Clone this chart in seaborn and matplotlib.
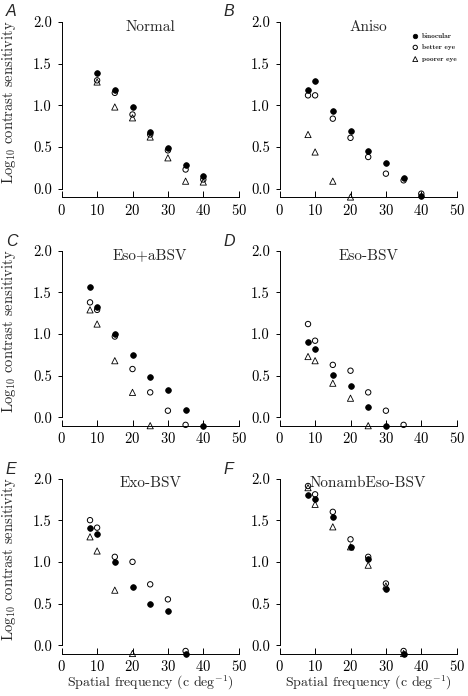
import matplotlib
matplotlib.use("Agg")
import matplotlib.pyplot as plt
import seaborn as sns

sns.set_theme(style="white")
plt.rcParams['font.family'] = ['cmr10', 'DejaVu Serif']
plt.rcParams['mathtext.fontset'] = 'cm'
plt.rcParams['axes.formatter.use_mathtext'] = True

# ---- data: (freqs, log10 contrast sensitivity) per group ----
titles = ["Normal", "Aniso", "Eso+aBSV", "Eso-BSV", "Exo-BSV", "NonambEso-BSV"]
letters = ["A", "B", "C", "D", "E", "F"]

normal_bin_x = [10, 15, 20, 25, 30, 35, 40]
normal_bin_y = [1.39, 1.18, 0.98, 0.68, 0.49, 0.28, 0.15]
normal_bet_x = [10, 15, 20, 25, 30, 35, 40]
normal_bet_y = [1.30, 1.15, 0.89, 0.65, 0.46, 0.23, 0.11]
normal_poor_x = [10, 15, 20, 25, 30, 35, 40]
normal_poor_y = [1.28, 0.98, 0.85, 0.62, 0.37, 0.09, 0.08]

aniso_bin_x = [8, 10, 15, 20, 25, 30, 35, 40]
aniso_bin_y = [1.19, 1.29, 0.93, 0.69, 0.45, 0.31, 0.13, -0.09]
aniso_bet_x = [8, 10, 15, 20, 25, 30, 35, 40]
aniso_bet_y = [1.12, 1.12, 0.84, 0.61, 0.38, 0.18, 0.10, -0.06]
aniso_poor_x = [8, 10, 15, 20]
aniso_poor_y = [0.65, 0.44, 0.09, -0.10]

esoa_bin_x = [8, 10, 15, 20, 25, 30, 35, 40]
esoa_bin_y = [1.56, 1.32, 1.00, 0.75, 0.49, 0.33, 0.09, -0.10]
esoa_bet_x = [8, 10, 15, 20, 25, 30, 35]
esoa_bet_y = [1.38, 1.29, 0.97, 0.58, 0.30, 0.08, -0.09]
esoa_poor_x = [8, 10, 15, 20, 25]
esoa_poor_y = [1.29, 1.12, 0.68, 0.30, -0.10]

eso_bin_x = [8, 10, 15, 20, 25, 30]
eso_bin_y = [0.90, 0.82, 0.51, 0.38, 0.13, -0.10]
eso_bet_x = [8, 10, 15, 20, 25, 30, 35]
eso_bet_y = [1.12, 0.92, 0.63, 0.56, 0.30, 0.08, -0.09]
eso_poor_x = [8, 10, 15, 20, 25]
eso_poor_y = [0.73, 0.68, 0.41, 0.23, -0.10]

exo_bin_x = [8, 10, 15, 20, 25, 30, 35]
exo_bin_y = [1.41, 1.34, 1.00, 0.70, 0.50, 0.41, -0.10]
exo_bet_x = [8, 10, 15, 20, 25, 30, 35]
exo_bet_y = [1.50, 1.41, 1.06, 1.00, 0.73, 0.55, -0.07]
exo_poor_x = [8, 10, 15, 20]
exo_poor_y = [1.30, 1.13, 0.66, -0.10]

nonamb_bin_x = [8, 10, 15, 20, 25, 30, 35]
nonamb_bin_y = [1.80, 1.76, 1.54, 1.18, 1.04, 0.67, -0.10]
nonamb_bet_x = [8, 10, 15, 20, 25, 30, 35]
nonamb_bet_y = [1.91, 1.81, 1.60, 1.27, 1.06, 0.74, -0.07]
nonamb_poor_x = [8, 10, 15, 20, 25, 30, 35]
nonamb_poor_y = [1.89, 1.69, 1.42, 1.18, 0.96, 0.71, -0.10]

panels = [
    (normal_bin_x, normal_bin_y, normal_bet_x, normal_bet_y, normal_poor_x, normal_poor_y),
    (aniso_bin_x, aniso_bin_y, aniso_bet_x, aniso_bet_y, aniso_poor_x, aniso_poor_y),
    (esoa_bin_x, esoa_bin_y, esoa_bet_x, esoa_bet_y, esoa_poor_x, esoa_poor_y),
    (eso_bin_x, eso_bin_y, eso_bet_x, eso_bet_y, eso_poor_x, eso_poor_y),
    (exo_bin_x, exo_bin_y, exo_bet_x, exo_bet_y, exo_poor_x, exo_poor_y),
    (nonamb_bin_x, nonamb_bin_y, nonamb_bet_x, nonamb_bet_y, nonamb_poor_x, nonamb_poor_y),
]

W, H = 468, 696
fig = plt.figure(figsize=(W / 100, H / 100), dpi=100)

lefts = [61.7, 279.7]
axis_rows = [197, 425.7, 653.5]  # pixel y of x-axis line
ax_w, ax_h = 177, 175

for i, (bx, by, ex, ey, px, py) in enumerate(panels):
    r, c = divmod(i, 2)
    ax = fig.add_axes([lefts[c] / W, (H - axis_rows[r]) / H, ax_w / W, ax_h / H])
    sns.scatterplot(x=bx, y=by, ax=ax, marker='o', s=17, color='black',
                    edgecolor='black', linewidth=0.5, clip_on=False, zorder=3,
                    label='binocular')
    sns.scatterplot(x=ex, y=ey, ax=ax, marker='o', s=15, color='none',
                    edgecolor='black', linewidth=0.7, clip_on=False, zorder=3,
                    label='better eye')
    sns.scatterplot(x=px, y=py, ax=ax, marker='^', s=20, color='none',
                    edgecolor='black', linewidth=0.6, clip_on=False, zorder=3,
                    label='poorer eye')
    ax.set_xlim(0, 50)
    ax.set_ylim(-0.1, 2.0)
    ax.set_xticks([0, 10, 20, 30, 40, 50])
    ax.set_yticks([0.0, 0.5, 1.0, 1.5, 2.0])
    ax.set_yticklabels(["0.0", "0.5", "1.0", "1.5", "2.0"])
    for s in ['top', 'right']:
        ax.spines[s].set_visible(False)
    ax.spines['left'].set_bounds(0, 2.0)
    ax.spines['bottom'].set_bounds(0, 50)
    for s in ['left', 'bottom']:
        ax.spines[s].set_color('black')
        ax.spines[s].set_linewidth(0.7)
    ax.tick_params(axis='x', direction='in', length=4, width=0.7,
                   labelsize=10.5, colors='black', pad=4, bottom=True)
    ax.tick_params(axis='y', direction='out', length=3, width=0.7,
                   labelsize=10.5, colors='black', pad=4, left=True)
    ax.grid(False)
    ax.text(25, 1.94, titles[i], ha='center', va='center', fontsize=11)
    if i == 1:
        ax.legend(loc='upper left', bbox_to_anchor=(0.745, 0.94), frameon=False,
                  prop={'family': 'cmb10', 'size': 5.3}, handletextpad=0.35,
                  labelspacing=0.75, borderaxespad=0, borderpad=0,
                  handlelength=1.0, markerscale=0.8)
    else:
        ax.get_legend().remove()
    if c == 0:
        ax.set_ylabel(r"Log$_{10}$ contrast sensitivity", fontsize=10.5)
        ax.yaxis.set_label_coords(-0.245, 0.54)
    if r == 2:
        ax.set_xlabel(r"Spatial frequency (c deg$^{-1}$)", fontsize=10, labelpad=0)
    fig.text((lefts[c] - 56) / W, 1 - (12 + r * 229) / H, letters[i],
             family='Liberation Sans', style='italic', fontsize=11.5,
             ha='left', va='center')

fig.savefig("out.png", dpi=100)
